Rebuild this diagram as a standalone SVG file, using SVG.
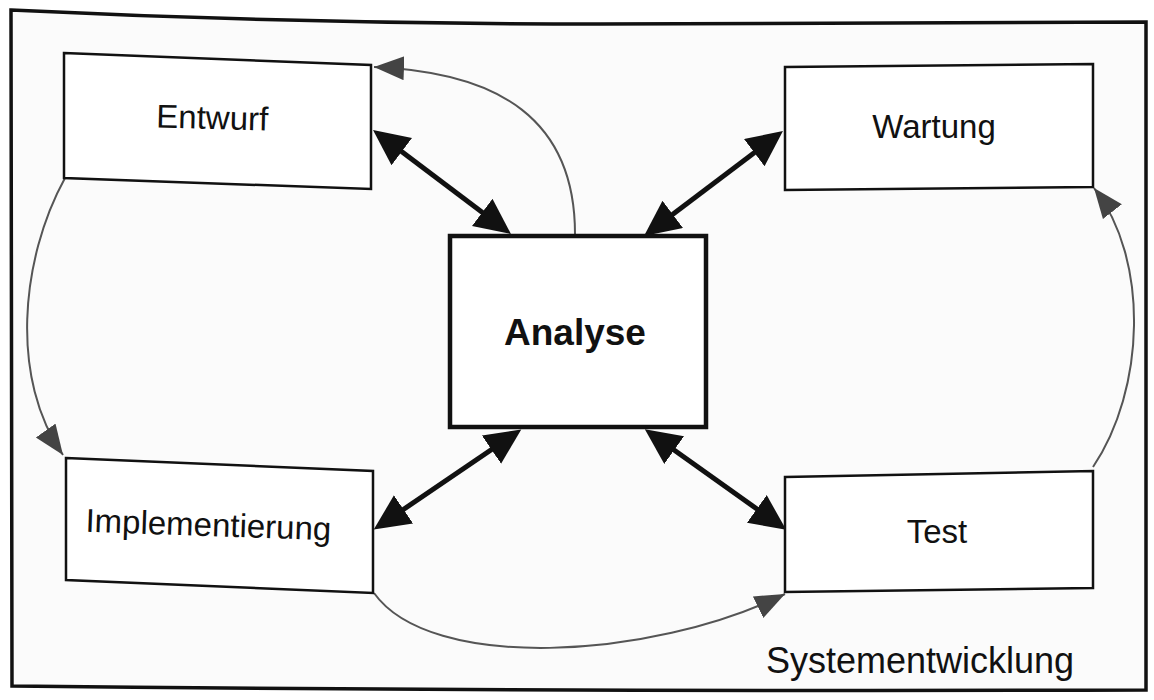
<svg xmlns="http://www.w3.org/2000/svg" width="1154" height="700" viewBox="0 0 1154 700">
  <style>
    .frame { fill: #fbfbfb; stroke: #111; stroke-width: 3.5; stroke-linejoin: miter; }
    .box { fill: #fff; stroke: #111; stroke-width: 2.5; }
    .main { fill: #fff; stroke: #111; stroke-width: 4.5; }
    .label { font-family: "Liberation Sans", Arial, sans-serif; font-size: 33px; fill: #111; text-anchor: middle; }
    .bold { font-weight: bold; font-size: 37px; }
    .title { font-size: 36px; }
    .link { fill: none; stroke: #111; stroke-width: 5; }
    .flow { fill: none; stroke: #555; stroke-width: 2; }
  </style>
  <defs>
    <marker id="big" markerUnits="userSpaceOnUse" markerWidth="40" markerHeight="36" refX="26" refY="17" orient="auto-start-reverse">
      <path d="M0,0 L36,17 L0,34 z" fill="#111"/>
    </marker>
    <marker id="thin" markerUnits="userSpaceOnUse" markerWidth="34" markerHeight="26" refX="30" refY="12" orient="auto">
      <path d="M0,0 L30,12 L0,24 z" fill="#444"/>
    </marker>
  </defs>

  <!-- outer frame -->
  <g id="frame">
    <path class="frame" d="M11,10 Q300,24 600,24 L1146,22 L1146,690 Q600,692 12,686 Z"/>
  </g>

  <!-- connectors -->
  <g id="connectors">
    <line class="link" x1="381" y1="136" x2="503" y2="228" marker-start="url(#big)" marker-end="url(#big)"/>
    <line class="link" x1="775" y1="137" x2="652" y2="230" marker-start="url(#big)" marker-end="url(#big)"/>
    <line class="link" x1="382" y1="524" x2="513" y2="435" marker-start="url(#big)" marker-end="url(#big)"/>
    <line class="link" x1="778" y1="524" x2="653" y2="435" marker-start="url(#big)" marker-end="url(#big)"/>

    <path class="flow" d="M575,234 C575,120 500,72 374,67" marker-end="url(#thin)"/>
    <path class="flow" d="M65,178 C20,260 10,380 63,455" marker-end="url(#thin)"/>
    <path class="flow" d="M374,593 C430,672 650,660 785,594" marker-end="url(#thin)"/>
    <path class="flow" d="M1093,467 C1145,390 1150,260 1094,188" marker-end="url(#thin)"/>
  </g>

  <!-- nodes -->
  <g id="entwurf">
    <polygon class="box" points="64,53 371,65 371,189 64,178"/>
    <text class="label" x="212" y="129" transform="rotate(1.5 212 129)">Entwurf</text>
  </g>
  <g id="wartung">
    <polygon class="box" points="785,67 1093,64 1093,187 785,190"/>
    <text class="label" x="934" y="138">Wartung</text>
  </g>
  <g id="analyse">
    <rect class="main" x="450" y="236" width="256" height="191"/>
    <text class="label bold" x="575" y="345">Analyse</text>
  </g>
  <g id="implementierung">
    <polygon class="box" points="66,458 373,471 373,593 66,580"/>
    <text class="label" x="208" y="536" transform="rotate(2 208 536)">Implementierung</text>
  </g>
  <g id="test">
    <polygon class="box" points="785,477 1093,471 1093,588 785,592"/>
    <text class="label" x="937" y="543">Test</text>
  </g>

  <!-- caption -->
  <g id="caption">
    <text class="label title" x="920" y="673">Systementwicklung</text>
  </g>
</svg>
